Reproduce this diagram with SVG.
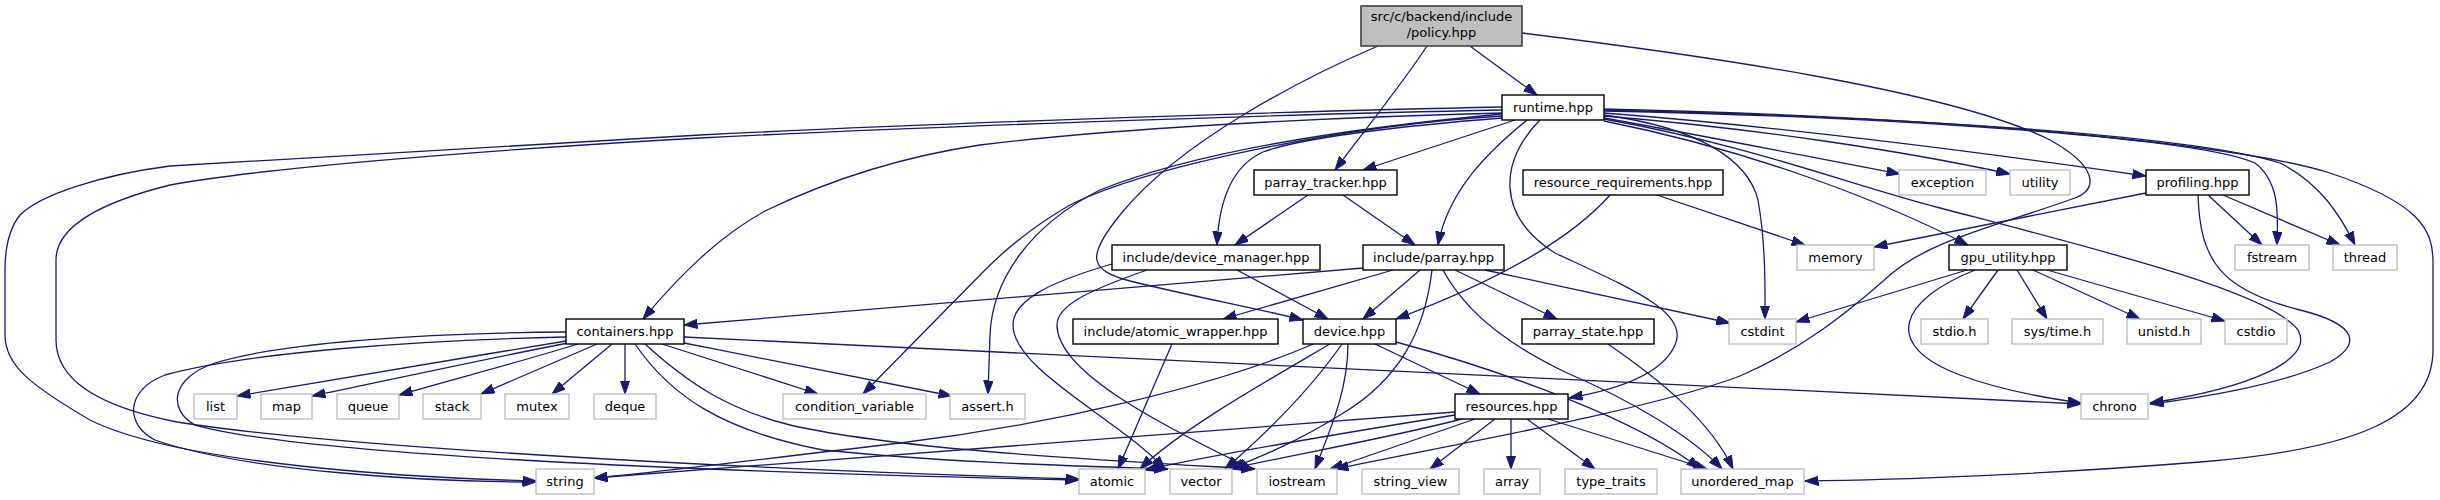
<svg xmlns="http://www.w3.org/2000/svg" width="2440" height="500" viewBox="0 0 2440 500">
<style>
.n rect{fill:#fff;stroke:#000;stroke-width:1.4}
.s rect{fill:#fff;stroke:#bfbfbf;stroke-width:1.4}
.r rect{fill:#bfbfbf;stroke:#404040;stroke-width:1.6}
text{font-family:"DejaVu Sans","Liberation Sans",sans-serif;font-size:13px;text-anchor:middle;fill:#000}
.e path{fill:none;stroke:#191970;stroke-width:1.3;marker-end:url(#a)}
</style>
<defs>
<marker id="a" markerUnits="userSpaceOnUse" markerWidth="14" markerHeight="10" viewBox="0 0 14 10" refX="13.5" refY="4.7" orient="auto">
<path d="M0,0 L13.5,4.7 L0,9.4 Z" fill="#191970" stroke="#191970" stroke-width="1"/>
</marker>
</defs>
<rect width="2440" height="500" fill="#fff"/>
<g id="edges" class="e">
<path d="M1470,46 C1490,61 1515,79 1537,95"/>
<path d="M1427,46 C1405,80 1365,130 1335,170"/>
<path d="M1378,46 C1310,75 1180,140 1120,215 C1085,258 1090,270 1130,281 C1190,296 1260,309 1303,320"/>
<path d="M1522,33 C1700,55 1950,90 2050,140 C2095,165 2100,188 2075,198 C2000,225 1930,240 1890,275 C1845,315 1800,350 1740,376 C1650,410 1450,445 1335,469"/>
<path d="M1502,107 C1250,112 900,125 700,135 C450,148 250,160 170,166 C100,175 40,195 20,215 C8,230 5,250 5,270 L5,335 C5,365 30,385 90,420 C180,465 420,478 536,481"/>
<path d="M1502,110 C1250,115 900,128 700,138 C450,152 250,170 170,185 C90,205 56,230 56,260 L56,340 C56,375 90,405 177,422 C320,445 700,468 1079,479"/>
<path d="M1502,113 C1300,118 1100,130 980,145 C900,157 830,180 767,210 C720,235 680,275 643,319"/>
<path d="M1502,116 C1350,125 1150,165 1070,205 C1030,228 1005,250 985,270 L863,394"/>
<path d="M1502,114 C1350,128 1200,150 1100,190 C1030,225 992,280 990,335 L988,394"/>
<path d="M1515,120 L1363,170"/>
<path d="M1502,118 C1400,126 1300,138 1263,152 C1232,166 1219,200 1217,245"/>
<path d="M1527,120 C1490,150 1448,190 1438,245"/>
<path d="M1540,120 C1500,160 1495,215 1555,253 C1630,288 1690,312 1675,345 C1662,375 1615,390 1569,398"/>
<path d="M1604,115 C1700,128 1748,160 1758,200 C1766,245 1765,290 1765,319"/>
<path d="M1604,118 C1700,135 1800,155 1900,174"/>
<path d="M1604,116 C1750,128 1900,150 2010,174"/>
<path d="M1604,113 C1800,128 2000,155 2146,176"/>
<path d="M1604,121 C1750,150 1880,200 1968,245"/>
<path d="M1604,119 C1750,145 1850,185 1940,208 C2100,250 2270,292 2298,330 C2315,360 2250,388 2150,403"/>
<path d="M1604,111 C1900,117 2200,138 2255,163 C2280,182 2278,215 2277,245"/>
<path d="M1604,110 C1950,118 2200,138 2280,163 C2320,183 2340,215 2355,245"/>
<path d="M1604,109 C2000,118 2250,148 2330,173 C2420,203 2433,230 2433,262 L2433,350 C2433,420 2350,450 2200,462 C2050,474 1900,480 1805,481"/>
<path d="M1308,195 L1235,245"/>
<path d="M1343,195 L1415,245"/>
<path d="M1610,195 C1570,240 1500,280 1396,319"/>
<path d="M1657,195 L1805,245"/>
<path d="M1237,270 L1328,319"/>
<path d="M1112,264 C1050,282 1013,300 1013,325 C1013,370 1120,420 1165,469"/>
<path d="M1147,270 C1090,290 1057,305 1057,325 C1057,370 1150,420 1252,469"/>
<path d="M1363,268 L684,325"/>
<path d="M1393,270 L1223,319"/>
<path d="M1420,270 L1363,319"/>
<path d="M1432,270 C1425,330 1400,380 1340,415 C1300,440 1265,455 1230,469"/>
<path d="M1455,270 L1557,319"/>
<path d="M1485,270 L1730,323"/>
<path d="M1443,270 C1470,320 1520,350 1565,372 C1630,400 1690,435 1722,469"/>
<path d="M1313,344 C1220,385 1050,425 900,443 C780,457 660,472 594,478"/>
<path d="M1330,344 C1260,385 1180,430 1140,469"/>
<path d="M1342,344 C1310,390 1270,430 1225,469"/>
<path d="M1348,344 C1348,390 1330,430 1315,469"/>
<path d="M1375,344 L1480,394"/>
<path d="M1396,342 C1500,370 1640,420 1700,469"/>
<path d="M1172,344 L1118,469"/>
<path d="M1608,344 C1660,380 1710,420 1733,469"/>
<path d="M1455,412 L594,478"/>
<path d="M1455,415 C1300,440 1200,458 1145,470"/>
<path d="M1462,419 C1380,440 1290,455 1230,469"/>
<path d="M1475,419 L1330,469"/>
<path d="M1495,419 L1430,469"/>
<path d="M1511,419 L1511,469"/>
<path d="M1527,419 L1595,469"/>
<path d="M1548,419 L1707,469"/>
<path d="M2146,193 L1874,247"/>
<path d="M2208,195 L2262,245"/>
<path d="M2223,195 L2340,245"/>
<path d="M2198,195 C2200,260 2220,290 2300,310 C2360,325 2360,345 2330,362 C2280,385 2200,398 2150,404"/>
<path d="M1967,270 L1796,322"/>
<path d="M1975,270 C1900,300 1880,345 1960,375 C2000,390 2045,398 2081,403"/>
<path d="M1998,270 L1963,319"/>
<path d="M2017,270 L2047,319"/>
<path d="M2033,270 L2140,319"/>
<path d="M2047,270 L2225,321"/>
<path d="M566,341 C450,360 320,382 237,396"/>
<path d="M568,343 C480,360 380,382 312,396"/>
<path d="M578,344 C520,362 450,380 399,395"/>
<path d="M597,344 L481,394"/>
<path d="M612,344 L552,394"/>
<path d="M625,344 L625,394"/>
<path d="M662,344 L818,394"/>
<path d="M684,343 C780,362 880,382 952,396"/>
<path d="M684,337 L2081,404"/>
<path d="M566,332 C420,333 280,343 215,363 C170,378 168,410 195,425 C300,455 700,472 1079,480"/>
<path d="M566,337 C420,340 250,352 165,375 C125,390 125,425 155,440 C240,470 420,482 536,482"/>
<path d="M635,344 C670,395 720,430 823,450 C950,463 1080,466 1168,469"/>
<path d="M645,344 C690,385 730,410 790,425 C900,450 1100,460 1255,469"/>
</g>
<g id="policy" class="r"><rect x="1361" y="6" width="161" height="40"/><text x="1441.5" y="21">src/c/backend/include</text><text x="1441.5" y="37">/policy.hpp</text></g>
<g id="runtime" class="n"><rect x="1502" y="95" width="102" height="25"/><text x="1553" y="112">runtime.hpp</text></g>
<g id="parray_tracker" class="n"><rect x="1254" y="170" width="143" height="25"/><text x="1325.5" y="187">parray_tracker.hpp</text></g>
<g id="resource_requirements" class="n"><rect x="1523" y="170" width="200" height="25"/><text x="1623" y="187">resource_requirements.hpp</text></g>
<g id="exception" class="s"><rect x="1899" y="170" width="87" height="25"/><text x="1942.5" y="187">exception</text></g>
<g id="utility" class="s"><rect x="2010" y="170" width="60" height="25"/><text x="2040" y="187">utility</text></g>
<g id="profiling" class="n"><rect x="2146" y="170" width="103" height="25"/><text x="2197.5" y="187">profiling.hpp</text></g>
<g id="device_manager" class="n"><rect x="1112" y="245" width="208" height="25"/><text x="1216" y="262">include/device_manager.hpp</text></g>
<g id="parray" class="n"><rect x="1363" y="245" width="141" height="25"/><text x="1433.5" y="262">include/parray.hpp</text></g>
<g id="memory" class="s"><rect x="1797" y="245" width="77" height="25"/><text x="1835.5" y="262">memory</text></g>
<g id="gpu_utility" class="n"><rect x="1949" y="245" width="118" height="25"/><text x="2008" y="262">gpu_utility.hpp</text></g>
<g id="fstream" class="s"><rect x="2235" y="245" width="74" height="25"/><text x="2272" y="262">fstream</text></g>
<g id="thread" class="s"><rect x="2333" y="245" width="64" height="25"/><text x="2365" y="262">thread</text></g>
<g id="containers" class="n"><rect x="566" y="319" width="118" height="25"/><text x="625" y="336">containers.hpp</text></g>
<g id="atomic_wrapper" class="n"><rect x="1073" y="319" width="205" height="25"/><text x="1175.5" y="336">include/atomic_wrapper.hpp</text></g>
<g id="device" class="n"><rect x="1303" y="319" width="93" height="25"/><text x="1349.5" y="336">device.hpp</text></g>
<g id="parray_state" class="n"><rect x="1522" y="319" width="132" height="25"/><text x="1588" y="336">parray_state.hpp</text></g>
<g id="cstdint" class="s"><rect x="1729" y="319" width="67" height="25"/><text x="1762.5" y="336">cstdint</text></g>
<g id="stdio_h" class="s"><rect x="1921" y="319" width="67" height="25"/><text x="1954.5" y="336">stdio.h</text></g>
<g id="sys_time_h" class="s"><rect x="2012" y="319" width="91" height="25"/><text x="2057.5" y="336">sys/time.h</text></g>
<g id="unistd_h" class="s"><rect x="2127" y="319" width="74" height="25"/><text x="2164" y="336">unistd.h</text></g>
<g id="cstdio" class="s"><rect x="2225" y="319" width="62" height="25"/><text x="2256" y="336">cstdio</text></g>
<g id="list" class="s"><rect x="194" y="394" width="43" height="25"/><text x="215.5" y="411">list</text></g>
<g id="map" class="s"><rect x="261" y="394" width="51" height="25"/><text x="286.5" y="411">map</text></g>
<g id="queue" class="s"><rect x="337" y="394" width="62" height="25"/><text x="368" y="411">queue</text></g>
<g id="stack" class="s"><rect x="423" y="394" width="58" height="25"/><text x="452" y="411">stack</text></g>
<g id="mutex" class="s"><rect x="505" y="394" width="64" height="25"/><text x="537" y="411">mutex</text></g>
<g id="deque" class="s"><rect x="594" y="394" width="62" height="25"/><text x="625" y="411">deque</text></g>
<g id="condition_variable" class="s"><rect x="783" y="394" width="143" height="25"/><text x="854.5" y="411">condition_variable</text></g>
<g id="assert_h" class="s"><rect x="950" y="394" width="75" height="25"/><text x="987.5" y="411">assert.h</text></g>
<g id="resources" class="n"><rect x="1455" y="394" width="113" height="25"/><text x="1511.5" y="411">resources.hpp</text></g>
<g id="chrono" class="s"><rect x="2081" y="394" width="67" height="25"/><text x="2114.5" y="411">chrono</text></g>
<g id="string" class="s"><rect x="536" y="469" width="58" height="25"/><text x="565" y="486">string</text></g>
<g id="atomic" class="s"><rect x="1079" y="469" width="66" height="25"/><text x="1112" y="486">atomic</text></g>
<g id="vector" class="s"><rect x="1170" y="469" width="62" height="25"/><text x="1201" y="486">vector</text></g>
<g id="iostream" class="s"><rect x="1257" y="469" width="80" height="25"/><text x="1297" y="486">iostream</text></g>
<g id="string_view" class="s"><rect x="1362" y="469" width="97" height="25"/><text x="1410.5" y="486">string_view</text></g>
<g id="array" class="s"><rect x="1484" y="469" width="56" height="25"/><text x="1512" y="486">array</text></g>
<g id="type_traits" class="s"><rect x="1565" y="469" width="92" height="25"/><text x="1611" y="486">type_traits</text></g>
<g id="unordered_map" class="s"><rect x="1681" y="469" width="123" height="25"/><text x="1742.5" y="486">unordered_map</text></g>
</svg>
